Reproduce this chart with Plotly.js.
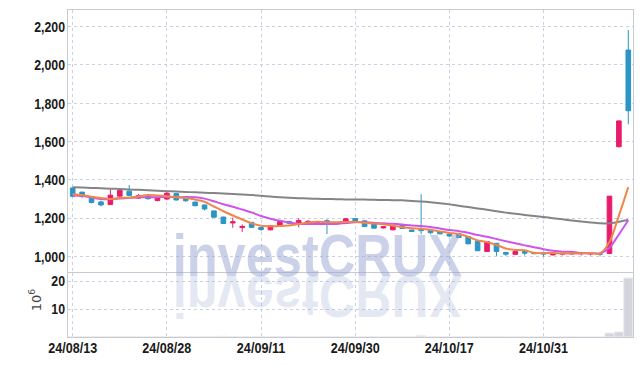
<!DOCTYPE html>
<html><head><meta charset="utf-8">
<script src="https://cdn.plot.ly/plotly-3.0.1.min.js"></script>
<style>html,body{margin:0;padding:0;background:#fff;}#chart{width:642px;height:366px;}</style>
</head><body><div id="chart"></div>
<script>
const dates = ['24/08/13','24/08/14','24/08/16','24/08/19','24/08/20','24/08/21','24/08/22','24/08/23','24/08/26','24/08/27',
'24/08/28','24/08/29','24/08/30','24/09/02','24/09/03','24/09/04','24/09/05','24/09/06','24/09/09','24/09/10',
'24/09/11','24/09/12','24/09/13','24/09/19','24/09/20','24/09/23','24/09/24','24/09/25','24/09/26','24/09/27',
'24/09/30','24/10/02','24/10/04','24/10/07','24/10/08','24/10/10','24/10/11','24/10/14','24/10/15','24/10/16',
'24/10/17','24/10/18','24/10/21','24/10/22','24/10/23','24/10/24','24/10/25','24/10/28','24/10/29','24/10/30',
'24/10/31','24/11/01','24/11/04','24/11/05','24/11/06','24/11/07','24/11/08','24/11/11','24/11/12','24/11/13'];
const open  = [1358,1336,1304,1285,1271,1315,1341,1305,1313,1292,1300,1329,1303,1284,1269,1238,1206,1175,1151,1178,
1151,1139,1157,1182,1170,1178,1177,1187,1177,1173,1198,1186,1169,1149,1139,1166,1138,1146,1138,1130,
1117,1118,1103,1078,1026,1069,1021,1011,1026,1020,1019,1008,1012,1013,1014,1013,1015,1016,1573,2078];
const high  = [1362,1338,1306,1292,1350,1356,1373,1326,1320,1310,1338,1330,1305,1286,1270,1239,1207,1203,1167,1180,
1152,1163,1185,1187,1200,1190,1184,1195,1179,1199,1200,1188,1170,1158,1162,1168,1140,1325,1140,1131,
1119,1120,1104,1079,1079,1070,1024,1027,1027,1021,1020,1020,1018,1018,1017,1016,1016,1316,1710,2183];
const low   = [1310,1305,1277,1262,1269,1304,1316,1300,1296,1288,1294,1292,1285,1262,1240,1203,1170,1150,1128,1150,
1133,1136,1155,1168,1152,1172,1175,1117,1170,1171,1183,1154,1146,1146,1137,1144,1129,1116,1116,1116,
1100,1097,1064,1028,1024,1003,1003,1009,1005,1012,1000,1006,1005,1010,1005,1005,1000,1012,1570,1690];
const close = [1314,1313,1282,1269,1320,1345,1319,1318,1302,1308,1330,1295,1291,1265,1248,1205,1172,1181,1157,1152,
1141,1161,1182,1173,1188,1183,1181,1169,1172,1197,1185,1156,1148,1155,1160,1146,1131,1135,1124,1118,
1107,1099,1066,1030,1078,1026,1012,1026,1017,1015,1013,1019,1016,1017,1016,1015,1012,1315,1708,1761];
// volume in millions of shares
const volume = [0.12,0.09,0.15,0.10,0.22,0.18,0.14,0.08,0.07,0.06,0.11,0.09,0.07,0.10,0.12,0.20,0.25,0.16,0.12,0.10,
0.08,0.09,0.12,0.07,0.10,0.06,0.05,0.14,0.05,0.09,0.07,0.10,0.08,0.05,0.07,0.06,0.05,0.45,0.08,0.06,
0.05,0.07,0.12,0.18,0.16,0.14,0.08,0.06,0.05,0.04,0.05,0.04,0.03,0.03,0.03,0.03,0.04,1.4,1.8,21.1];
const ma5 = [1325,1320,1312,1305,1300,1306,1307,1314,1321,1318,1315,1311,1305,1298,1286,1261,1236,1214,1193,1173,
1161,1158,1159,1162,1169,1177,1181,1179,1179,1180,1181,1176,1172,1168,1161,1153,1148,1145,1139,1131,
1123,1117,1103,1084,1076,1060,1042,1034,1032,1019,1017,1018,1016,1016,1016,1017,1015,1075,1213,1362];
const ma10 = [1320,1316,1308,1300,1299,1303,1306,1308,1309,1309,1311,1309,1310,1309,1302,1288,1273,1260,1245,1230,
1211,1197,1186,1177,1171,1169,1170,1169,1170,1175,1179,1179,1175,1173,1171,1167,1162,1159,1154,1146,
1138,1132,1124,1112,1103,1091,1080,1069,1058,1048,1038,1030,1025,1024,1018,1017,1017,1046,1115,1189];
const maLong = [1362,1360,1358,1356,1354,1352,1350,1348,1346,1343,1341,1339,1337,1335,1333,1331,1329,1326,1323,1321,
1317,1313,1309,1306,1304,1303,1301,1300,1299,1298,1297,1297,1296,1295,1294,1293,1290,1287,1283,1278,
1272,1265,1258,1251,1244,1236,1229,1223,1217,1211,1206,1200,1194,1188,1183,1178,1174,1173,1181,1190];
const tickLabels = ['24/08/13','24/08/28','24/09/11','24/09/30','24/10/17','24/10/31'];
const priceTicks = [1000,1200,1400,1600,1800,2000,2200];
const volumeTicks = [10,20];
const volumeUnit = '10<sup>6</sup>';
const watermark = 'investCRUX';

const UP = '#e81c6c', DOWN = '#2b95c6';
const tickFont = {family:'"Liberation Sans",Arial,sans-serif', size:15, color:'#1a1a1a', weight:700};
const gridColor = '#cdd0e4', frameColor = '#c9c9d2';
const wmFont = {family:'"Liberation Sans",Arial,sans-serif', size:60, weight:700};

const traces = [
  {type:'candlestick', x:dates, open:open, high:high, low:low, close:close, xaxis:'x', yaxis:'y',
   increasing:{line:{color:UP,width:1}, fillcolor:UP},
   decreasing:{line:{color:DOWN,width:1}, fillcolor:DOWN}, hoverinfo:'skip'},
  {type:'scatter', mode:'lines', x:dates, y:maLong, xaxis:'x', yaxis:'y', line:{color:'#858585', width:2, shape:'spline', smoothing:0.8}},
  {type:'scatter', mode:'lines', x:dates, y:ma10, xaxis:'x', yaxis:'y', line:{color:'#cf55ea', width:2, shape:'spline', smoothing:0.8}},
  {type:'scatter', mode:'lines', x:dates, y:ma5, xaxis:'x', yaxis:'y', line:{color:'#f0874a', width:2, shape:'spline', smoothing:0.8}},
  {type:'bar', x:dates, y:volume, xaxis:'x2', yaxis:'y2', marker:{color:'#d4d4dc', line:{color:'#ececf1', width:1}}}
];

const layout = {
  width:642, height:366, margin:{l:68, r:9, t:10, b:29},
  paper_bgcolor:'#fff', plot_bgcolor:'#fff', showlegend:false, bargap:0.03,
  xaxis:{type:'category', domain:[0,1], anchor:'y', matches:'x2', range:[-0.5,59.5], rangeslider:{visible:false},
    tickvals:tickLabels, showticklabels:false, showgrid:true, gridcolor:gridColor, griddash:'dot', gridwidth:1,
    showline:true, mirror:true, linecolor:frameColor, linewidth:1, ticks:'', zeroline:false},
  xaxis2:{type:'category', domain:[0,1], anchor:'y2', range:[-0.5,59.5],
    tickvals:tickLabels, ticktext:tickLabels, tickfont:tickFont,
    showgrid:true, gridcolor:gridColor, griddash:'dot', gridwidth:1,
    showline:true, mirror:false, linecolor:frameColor, linewidth:1, ticks:'', zeroline:false, ticklabelstandoff:-3},
  yaxis:{domain:[0.2,1], anchor:'x', range:[921,2287], tickvals:priceTicks, tickformat:',d', tickfont:tickFont,
    showgrid:true, gridcolor:gridColor, griddash:'dot', gridwidth:1, showline:true, mirror:true,
    linecolor:frameColor, linewidth:1, ticks:'', zeroline:false, ticklabelstandoff:-1},
  yaxis2:{domain:[0,0.195], anchor:'x2', range:[0,22.8], tickvals:volumeTicks, tickfont:tickFont,
    showgrid:true, gridcolor:gridColor, griddash:'dot', gridwidth:1, showline:true, mirror:true,
    linecolor:frameColor, linewidth:1, ticks:'', zeroline:false, ticklabelstandoff:-1},
  annotations:[
    {text:watermark, xref:'paper', yref:'paper', x:0.444, y:0.14, xanchor:'center', yanchor:'bottom', showarrow:false,
     font:Object.assign({color:'rgba(150,164,210,0.5)'}, wmFont)},
    {text:watermark, xref:'paper', yref:'paper', x:0.444, y:0.14, xanchor:'center', yanchor:'bottom', showarrow:false,
     font:Object.assign({color:'rgba(150,164,210,0.26)'}, wmFont)},
    {text:volumeUnit, xref:'paper', yref:'paper', x:-0.058, y:0.113, xanchor:'center', yanchor:'middle', showarrow:false,
     textangle:-90, font:{family:'DejaVu Sans, sans-serif', size:13, color:'#444'}}
  ]
};

function compress(el, ratio){
  const w = el.getComputedTextLength();
  if (w > 0) { el.setAttribute('textLength', (w*ratio).toFixed(1)); el.setAttribute('lengthAdjust','spacingAndGlyphs'); }
}

Plotly.newPlot('chart', traces, layout, {staticPlot:true}).then(function(){
  document.querySelectorAll('.ytick text, .y2tick text').forEach(t => compress(t, 0.82));
  document.querySelectorAll('.xtick text, .x2tick text').forEach(t => compress(t, 0.84));
  const anns = document.querySelectorAll('g.annotation');
  if (anns.length >= 2) {
    const t0 = anns[0].querySelector('text');
    const r = t0.getBoundingClientRect();
    const baseline = r.bottom - 0.212*wmFont.size;
    const target = 276, centerX = 319, inkWidth = 286;
    const d = target - baseline;
    const cx = (r.left + r.right)/2 + 2;
    const sx = inkWidth / Math.max(1, r.width - 4);
    const base = 'translate(' + centerX + ',' + d.toFixed(1) + ') scale(' + sx.toFixed(4) + ',1) translate(' + (-cx).toFixed(1) + ',0)';
    anns[0].setAttribute('transform', base + ' ' + (anns[0].getAttribute('transform')||''));
    anns[1].setAttribute('transform', 'translate(0,' + (2*target) + ') scale(1,-1) ' + base + ' ' + (anns[1].getAttribute('transform')||''));
  }
});
</script>
</body></html>
